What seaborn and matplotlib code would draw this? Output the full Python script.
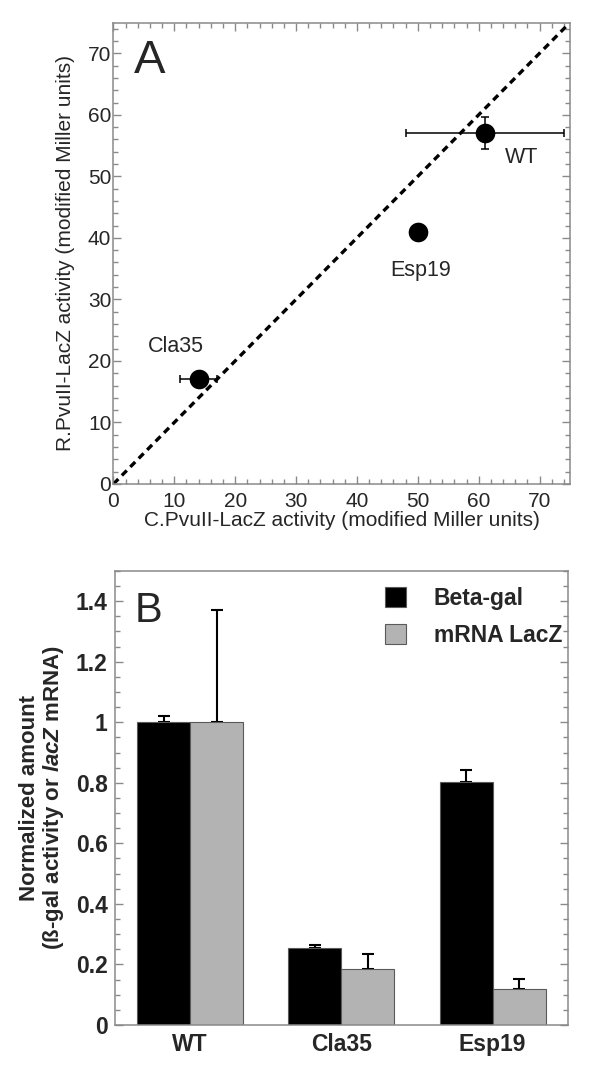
import matplotlib
matplotlib.use("Agg")
import matplotlib.pyplot as plt
import numpy as np
import pandas as pd
import seaborn as sns
from matplotlib.ticker import MultipleLocator

# ---- panel A data (C.PvuII vs R.PvuII LacZ activity)
strains = ["WT", "Esp19", "Cla35"]
c_act = [61, 50, 14]
c_err = [13, 0.8, 3]
r_act = [57, 41, 17]
r_err = [2.6, 0.8, 0.3]
label_pos_x = [67, 50.5, 10.3]
label_pos_y = [53, 34.7, 22.4]
DIAG = [0, 75]

# ---- panel B data (normalized amounts)
groups = ["WT", "Cla35", "Esp19"]
series = ["Beta-gal", "mRNA LacZ"]
beta_gal = [1.0, 0.255, 0.804]
beta_err = [0.021, 0.010, 0.038]
mrna = [1.0, 0.185, 0.12]
mrna_err = [0.372, 0.051, 0.032]

sns.set_style("ticks")
plt.rcParams["font.family"] = ["Liberation Sans", "DejaVu Sans"]
plt.rcParams["mathtext.fontset"] = "custom"
plt.rcParams["mathtext.bfit"] = "Liberation Sans:italic:bold"
plt.rcParams["mathtext.it"] = "Liberation Sans:italic"

SPINE = "#8a8a8a"

fig = plt.figure(figsize=(6, 10.67), dpi=100)
axA = fig.add_axes([0.189, 0.5464, 0.761, 0.4325])
axB = fig.add_axes([0.191, 0.0394, 0.756, 0.4255])


def style_axes(ax, pad_x, pad_y):
    for s in ax.spines.values():
        s.set_color(SPINE); s.set_linewidth(1.1)
    ax.tick_params(which="both", direction="in", top=True, right=True, color=SPINE, width=1.0)
    ax.tick_params(which="major", length=6)
    ax.tick_params(which="minor", length=3.5)
    ax.tick_params(axis="x", pad=pad_x)
    ax.tick_params(axis="y", pad=pad_y)


# ---------------- panel A
dfA = pd.DataFrame({"strain": strains, "c": c_act, "r": r_act})
axA.plot(DIAG, DIAG, color="black", ls=(0, (2.1, 1.5)), lw=2.4, zorder=1)
axA.errorbar(dfA["c"], dfA["r"], xerr=c_err, yerr=r_err, fmt="none",
             ecolor="black", elinewidth=1.1, capsize=3, capthick=1.1, zorder=2)
sns.scatterplot(data=dfA, x="c", y="r", ax=axA, color="black", s=200,
                edgecolor="black", linewidth=0, zorder=3, legend=False)
for name, lx, ly in zip(strains, label_pos_x, label_pos_y):
    axA.text(lx, ly, name, ha="center", va="center", fontsize=15.5)
axA.set_xlim(0, 75); axA.set_ylim(0, 75)
axA.xaxis.set_major_locator(MultipleLocator(10)); axA.xaxis.set_minor_locator(MultipleLocator(2))
axA.yaxis.set_major_locator(MultipleLocator(10)); axA.yaxis.set_minor_locator(MultipleLocator(2))
style_axes(axA, 6, 1.5)
axA.tick_params(labelsize=15)
axA.set_xlabel("C.PvuII-LacZ activity (modified Miller units)", fontsize=15, labelpad=0)
axA.set_ylabel("R.PvuII-LacZ activity (modified Miller units)", fontsize=15, labelpad=9)
axA.text(0.045, 0.965, "A", transform=axA.transAxes, fontsize=34, va="top", ha="left")

# ---------------- panel B
dfB = pd.DataFrame({
    "group": groups * 2,
    "series": [series[0]] * 3 + [series[1]] * 3,
    "value": beta_gal + mrna,
})
errs = {series[0]: beta_err, series[1]: mrna_err}
sns.barplot(data=dfB, x="group", y="value", hue="series", order=groups, hue_order=series,
            palette=["black", "#b3b3b3"], edgecolor="#5a5a5a", linewidth=0.8,
            width=0.7, gap=0, errorbar=None, ax=axB, zorder=2)
for cont, name in zip(axB.containers, series):
    xs = [p.get_x() + p.get_width() / 2 for p in cont]
    ys = [p.get_height() for p in cont]
    e = errs[name]
    axB.errorbar(xs, ys, yerr=[np.zeros(len(e)), e], fmt="none", ecolor="black",
                 elinewidth=1.5, capsize=4, capthick=1.5, zorder=1)
axB.set_xlim(-0.5, 2.5); axB.set_ylim(0, 1.5)
axB.yaxis.set_major_locator(MultipleLocator(0.2)); axB.yaxis.set_minor_locator(MultipleLocator(0.05))
axB.set_yticks([0, 0.2, 0.4, 0.6, 0.8, 1.0, 1.2, 1.4])
axB.set_yticklabels(["0", "0.2", "0.4", "0.6", "0.8", "1", "1.2", "1.4"])
style_axes(axB, 6, 5)
axB.tick_params(axis="x", which="both", top=False, bottom=False)
axB.tick_params(labelsize=16.5)
for t in axB.get_xticklabels() + axB.get_yticklabels():
    t.set_fontweight("bold")
axB.set_xlabel("")
axB.set_ylabel("Normalized amount\n(ß-gal activity or $\\mathbfit{lacZ}$ mRNA)",
               fontsize=16, fontweight="bold", labelpad=7, linespacing=1.05)
leg = axB.legend(loc="upper left", bbox_to_anchor=(0.55, 1.01), frameon=False,
                 prop={"weight": "bold", "size": 16.5}, handlelength=0.95, handleheight=0.95,
                 handletextpad=1.2, labelspacing=0.6)
axB.text(0.045, 0.955, "B", transform=axB.transAxes, fontsize=30, va="top", ha="left")

fig.savefig("out.png", dpi=100)
